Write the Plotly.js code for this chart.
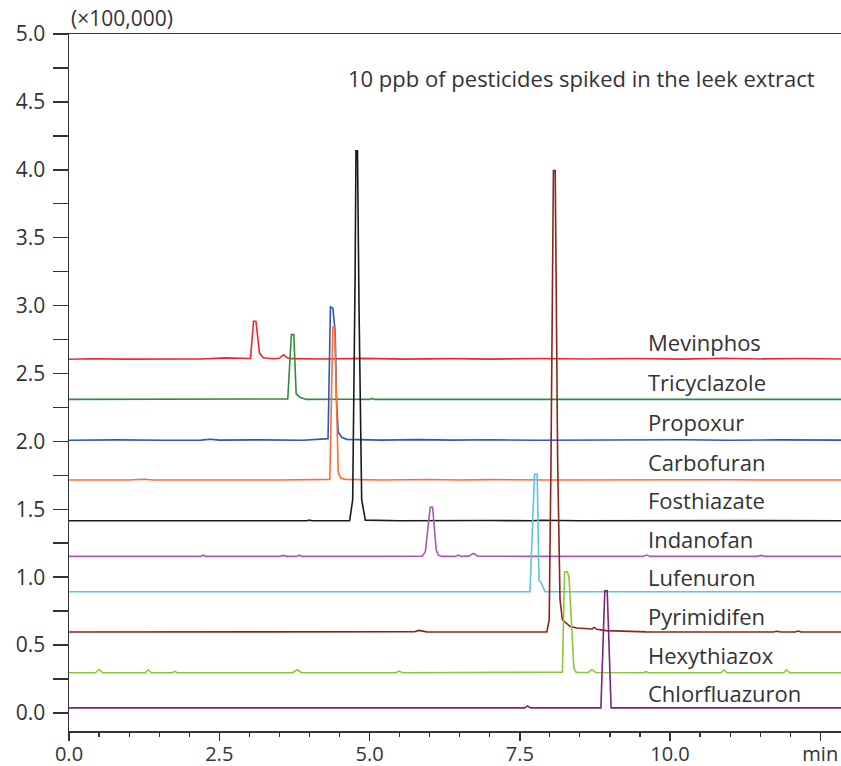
<!DOCTYPE html>
<html>
<head>
<meta charset="utf-8">
<script src="https://cdn.plot.ly/plotly-3.0.1.min.js"></script>
<style>html,body{margin:0;padding:0;background:#fff;}#chart{width:841px;height:766px;}</style>
</head>
<body>
<div id="chart"></div>
<script>
// Compound names (legend labels drawn on the right)
const compounds = ["Mevinphos","Tricyclazole","Propoxur","Carbofuran","Fosthiazate","Indanofan","Lufenuron","Pyrimidifen","Hexythiazox","Chlorfluazuron"];
const colors = ["#f0282a","#358a3e","#2a58b4","#ff6d35","#1a1a1a","#a857b8","#5cc7d9","#8b2518","#8cc63c","#7a2380"];
// label heights (×100,000)
const labelY = [2.73,2.44,2.14,1.85,1.57,1.28,1.0,0.715,0.43,0.146];

// Retention time (min) and intensity (×100,000, displayed with offsets)
const mevinphosT = [0,0.4,0.9,1.5,2.2,2.6,2.75,2.9,3.02,3.07,3.11,3.17,3.23,3.4,3.5,3.57,3.63,3.7,4.2,4.9,5.6,6.4,7.0,7.8,8.6,9.4,10.2,10.9,11.5,12.2,12.85];
const mevinphosI = [2.605,2.608,2.606,2.608,2.607,2.615,2.612,2.607,2.61,2.885,2.885,2.65,2.615,2.608,2.612,2.638,2.615,2.609,2.607,2.611,2.606,2.609,2.606,2.61,2.607,2.61,2.606,2.612,2.607,2.61,2.607];

const tricyclazoleT = [0,1.5,3.0,3.64,3.70,3.74,3.78,3.84,3.9,3.95,4.6,5.0,5.04,5.08,6.5,8.0,9.5,11.0,12.85];
const tricyclazoleI = [2.309,2.309,2.309,2.312,2.786,2.786,2.35,2.324,2.316,2.309,2.31,2.309,2.316,2.309,2.309,2.31,2.309,2.31,2.309];

const propoxurT = [0,0.8,1.6,2.2,2.35,2.5,3.2,3.9,4.31,4.35,4.39,4.43,4.45,4.48,4.54,4.62,5.2,5.8,6.4,7.0,7.8,8.6,9.4,10.2,11.0,11.8,12.85];
const propoxurI = [2.008,2.011,2.008,2.009,2.016,2.009,2.011,2.008,2.02,2.99,2.98,2.80,2.31,2.065,2.03,2.015,2.009,2.013,2.009,2.012,2.008,2.011,2.009,2.012,2.008,2.011,2.009];

const carbofuranT = [0,1.0,1.25,1.4,2.5,3.5,4.34,4.39,4.42,4.45,4.48,4.52,4.6,5.2,6.0,6.5,7.0,8.0,9.0,10.0,11.0,12.0,12.85];
const carbofuranI = [1.715,1.715,1.721,1.715,1.716,1.715,1.72,2.84,2.84,2.31,1.77,1.73,1.72,1.716,1.719,1.715,1.718,1.715,1.717,1.715,1.717,1.715,1.715];

const fosthiazateT = [0,0.4,0.46,0.52,1.5,2.5,3.5,3.96,4.0,4.04,4.67,4.72,4.76,4.775,4.80,4.825,4.87,4.93,5.5,6.2,6.35,7.0,7.7,7.85,8.5,9.5,10.5,11.5,12.85];
const fosthiazateI = [1.415,1.415,1.42,1.415,1.415,1.415,1.415,1.415,1.421,1.415,1.415,1.57,3.2,4.14,4.14,3.0,1.57,1.42,1.415,1.418,1.414,1.417,1.415,1.419,1.415,1.417,1.415,1.416,1.415];

const indanofanT = [0,1.5,2.18,2.23,2.28,3.5,3.57,3.62,3.78,3.83,3.88,5.0,5.88,5.93,5.98,6.01,6.05,6.08,6.11,6.15,6.2,6.43,6.48,6.53,6.65,6.73,6.8,7.5,9.55,9.61,9.67,11.45,11.52,11.58,12.85];
const indanofanI = [1.153,1.153,1.153,1.162,1.153,1.153,1.16,1.153,1.153,1.162,1.153,1.153,1.155,1.19,1.38,1.515,1.515,1.36,1.2,1.16,1.153,1.153,1.163,1.153,1.155,1.175,1.155,1.153,1.153,1.163,1.153,1.153,1.16,1.153,1.153];

const lufenuronT = [0,3.0,6.0,7.67,7.745,7.79,7.82,7.86,7.92,9.0,11.0,12.85];
const lufenuronI = [0.892,0.892,0.892,0.892,1.757,1.757,0.975,0.955,0.892,0.892,0.892,0.892];

const pyrimidifenT = [0,2.0,4.0,5.5,5.75,5.82,5.88,5.95,7.0,7.95,7.99,8.02,8.06,8.09,8.13,8.17,8.21,8.34,8.45,8.6,8.7,8.74,8.78,8.94,9.28,9.6,10.5,11.72,11.78,11.84,12.08,12.13,12.18,12.85];
const pyrimidifenI = [0.596,0.596,0.596,0.596,0.598,0.608,0.602,0.597,0.596,0.597,0.685,1.87,3.994,3.994,1.87,0.833,0.685,0.636,0.626,0.62,0.618,0.63,0.616,0.606,0.60,0.597,0.596,0.596,0.602,0.596,0.596,0.603,0.596,0.596];

const hexythiazoxT = [0,0.44,0.5,0.56,1.27,1.32,1.37,1.72,1.76,1.8,3.72,3.8,3.87,5.44,5.49,5.55,8.21,8.245,8.29,8.32,8.40,8.44,8.64,8.7,8.76,9.56,9.6,9.64,10.85,10.9,10.95,11.89,11.94,11.99,12.85];
const hexythiazoxI = [0.296,0.296,0.32,0.296,0.296,0.318,0.296,0.296,0.306,0.296,0.296,0.318,0.296,0.296,0.308,0.296,0.30,1.04,1.04,1.0,0.33,0.298,0.298,0.32,0.298,0.296,0.304,0.296,0.296,0.318,0.296,0.296,0.318,0.296,0.296];

const chlorfluazuronT = [0,3.0,6.0,7.58,7.63,7.68,8.85,8.915,8.955,9.02,10.5,12.85];
const chlorfluazuronI = [0.037,0.037,0.037,0.037,0.052,0.037,0.037,0.899,0.899,0.037,0.037,0.037];

const times = [mevinphosT,tricyclazoleT,propoxurT,carbofuranT,fosthiazateT,indanofanT,lufenuronT,pyrimidifenT,hexythiazoxT,chlorfluazuronT];
const intens = [mevinphosI,tricyclazoleI,propoxurI,carbofuranI,fosthiazateI,indanofanI,lufenuronI,pyrimidifenI,hexythiazoxI,chlorfluazuronI];

// Axis ticks
const xTickVals = [0,2.5,5,7.5,10,12.5];
const xTickText = ["0.0","2.5","5.0","7.5","10.0","min"];
const yTickVals = [0,0.5,1,1.5,2,2.5,3,3.5,4,4.5,5];

const FONT = "Open Sans, Noto Sans, sans-serif";
const TXT = "#333333";

const traces = compounds.map((name,i)=>({
  type:"scatter", mode:"lines", name:name,
  x: times[i], y: intens[i],
  line:{color:colors[i], width:1.6},
  hoverinfo:"skip"
}));

const annotations = compounds.map((name,i)=>({
  x:9.6, y:labelY[i], xref:"x", yref:"y", text:name, showarrow:false,
  xanchor:"left", yanchor:"middle", font:{family:FONT, size:22, color:TXT}
}));
annotations.push({
  x:4.61, y:4.676, xref:"x", yref:"y", text:"10 ppb of pesticides spiked in the leek extract",
  showarrow:false, xanchor:"left", yanchor:"middle", font:{family:FONT, size:22, color:TXT}
});
annotations.push({
  x:0, y:1, xref:"paper", yref:"paper", text:"(×100,000)", showarrow:false,
  xanchor:"left", yanchor:"bottom", yshift:0, xshift:0, font:{family:FONT, size:21, color:TXT}
});

const layout = {
  width:841, height:766,
  margin:{l:69, r:0, t:34, b:35, pad:0},
  paper_bgcolor:"#fff", plot_bgcolor:"#fff",
  showlegend:false,
  font:{family:FONT, size:20, color:TXT},
  xaxis:{
    range:[0,12.845], showgrid:false, zeroline:false,
    showline:true, linecolor:"#333", linewidth:1.5, mirror:true,
    ticks:"outside", ticklen:8, tickwidth:1.5, tickcolor:"#333",
    tickvals:xTickVals, ticktext:xTickText, ticklabelstandoff:-4,
    tickfont:{family:FONT, size:20, color:TXT},
    minor:{dtick:0.5, tick0:0, ticks:"outside", ticklen:4, tickwidth:1.2, tickcolor:"#333", showgrid:false}
  },
  yaxis:{
    range:[-0.133,5.0], showgrid:false, zeroline:false,
    showline:true, linecolor:"#333", linewidth:1.5,
    ticks:"outside", ticklen:15, tickwidth:1.5, tickcolor:"#333",
    tickvals:yTickVals, tickformat:".1f", ticklabelstandoff:3,
    tickfont:{family:FONT, size:21, color:TXT},
    minor:{dtick:0.25, tick0:0, ticks:"outside", ticklen:15, tickwidth:1.5, tickcolor:"#333", showgrid:false}
  },
  annotations:annotations
};

Plotly.newPlot("chart", traces, layout, {displayModeBar:false, staticPlot:true});
</script>
</body>
</html>
